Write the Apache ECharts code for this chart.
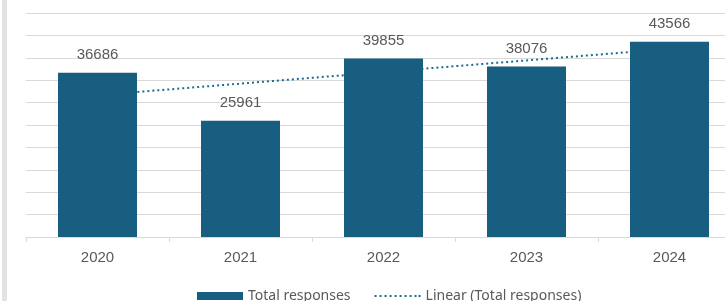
<!DOCTYPE html>
<html>
<head>
<meta charset="utf-8">
<script src="https://cdn.jsdelivr.net/npm/echarts@6/dist/echarts.min.js"></script>
<style>
	html, body { margin: 0; padding: 0; background: #fff; }
	#chart { width: 725px; height: 301px; }
</style>
</head>
<body>
<div id="chart"></div>
<script>
var years = ['2020', '2021', '2022', '2023', '2024'];
var totalResponses = [36686, 25961, 39855, 38076, 43566];
// trend line values
var linearTrend = [31650, 34240, 36830, 39420, 42000];

var barColor = '#185e80';
var textColor = '#595959';
var gridColor = '#d9d9d9';
var trendColor = '#1e6b92';

var dottedIcon = 'path://M0,0h2v2h-2z M5,0h2v2h-2z M10,0h2v2h-2z M15,0h2v2h-2z M20,0h2v2h-2z'
		+ ' M25,0h2v2h-2z M30,0h2v2h-2z M35,0h2v2h-2z M40,0h2v2h-2z M44,0h2v2h-2z';

var myChart = echarts.init(document.getElementById('chart'));

var option = {
	animation : false,
	backgroundColor : '#fff',
	textStyle : {
		fontFamily : 'Liberation Sans'
	},
	graphic : [ {
		type : 'rect',
		left : 2,
		top : 0,
		shape : { width : 5, height : 301 },
		style : { fill : '#e3e3e3' },
		silent : true
	} ],
	grid : {
		left : 26,
		top : 13,
		width : 715,
		height : 224,
		outerBoundsMode : 'none'
	},
	legend : {
		left : 192,
		top : 284,
		itemWidth : 46,
		itemHeight : 8,
		itemGap : 24,
		data : [ {
			name : 'Total responses',
			icon : 'rect'
		}, {
			name : 'Linear (Total responses)',
			icon : dottedIcon,
			itemStyle : { color : trendColor }
		} ],
		textStyle : {
			color : textColor,
			fontSize : 14,
			fontFamily : 'Noto Sans'
		}
	},
	xAxis : {
		type : 'category',
		data : years,
		axisLine : {
			lineStyle : { color : gridColor, width : 1 }
		},
		axisTick : {
			show : true,
			length : 5,
			lineStyle : { color : gridColor }
		},
		axisLabel : {
			color : textColor,
			fontSize : 15,
			margin : 13
		}
	},
	yAxis : {
		type : 'value',
		min : 0,
		max : 50000,
		interval : 5000,
		axisLabel : { show : false },
		axisLine : { show : false },
		axisTick : { show : false },
		splitLine : {
			lineStyle : { color : gridColor, width : 1 }
		}
	},
	series : [ {
		name : 'Total responses',
		type : 'bar',
		z : 3,
		barWidth : 79,
		data : totalResponses,
		itemStyle : {
			color : barColor
		},
		label : {
			show : true,
			position : 'top',
			distance : 10,
			color : textColor,
			fontSize : 15
		}
	}, {
		name : 'Linear (Total responses)',
		type : 'line',
		z : 1,
		data : linearTrend,
		symbol : 'none',
		showSymbol : false,
		lineStyle : {
			color : trendColor,
			width : 2,
			type : [ 2, 3 ]
		},
		itemStyle : {
			color : trendColor
		}
	} ]
};

myChart.setOption(option);
</script>
</body>
</html>
